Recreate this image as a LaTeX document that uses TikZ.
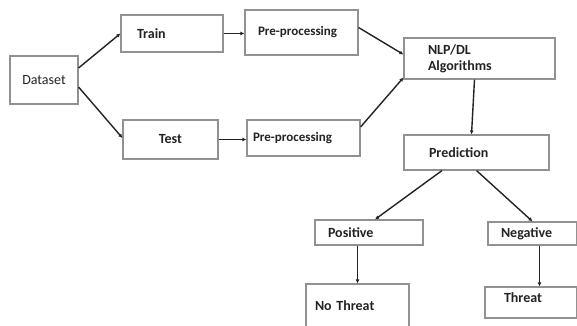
\documentclass[tikz,border=0pt]{standalone}
\usepackage{fontspec}
\setmainfont{Carlito}
\usepackage{xcolor}
\usetikzlibrary{arrows.meta}
\definecolor{boxgray}{RGB}{145,145,145}
\definecolor{linedark}{RGB}{35,35,35}
\definecolor{textdark}{RGB}{35,35,35}
\tikzset{
    box/.style={draw=boxgray,line width=1.1pt,text=textdark,inner ysep=0pt,align=left,
        font=\bfseries\fontsize{14}{16}\selectfont},
    flow/.style={draw=linedark,line width=1.4pt,-{Latex[length=4pt,width=4pt]}}
}

\begin{document}
\begin{tikzpicture}[x=1pt,y=-1pt]
        \useasboundingbox (0,0) rectangle (577,325);

        % Input and split
        \node[box,font=\fontsize{14}{16}\selectfont,align=center,minimum width=68pt,minimum height=48pt,text width=60pt,inner xsep=4pt] (dataset) at (44,80) {Dataset};
        \node[box,minimum width=102pt,minimum height=37pt,text width=70pt,inner xsep=16pt] (train) at (172,33.5) {Train};
        \node[box,align=center,minimum width=95pt,minimum height=39pt,text width=87pt,inner xsep=4pt] (test) at (170.5,139.5) {Test};

        % Pre-processing
        \node[box,font=\bfseries\fontsize{13}{15}\selectfont,minimum width=113pt,minimum height=45pt,text width=87pt,inner xsep=13pt] (preA) at (301.5,32.5) {Pre-processing};
        \node[box,font=\bfseries\fontsize{13}{15}\selectfont,minimum width=113pt,minimum height=36pt,text width=101pt,inner xsep=6pt] (preB) at (303.5,138) {Pre-processing};

        % Model and output
        \node[box,minimum width=151pt,minimum height=41pt,text width=103pt,inner xsep=24pt] (nlp) at (479.5,58.5) {NLP/DL\\Algorithms};
        \node[box,minimum width=145pt,minimum height=35pt,text width=95pt,inner xsep=25pt] (pred) at (476.5,152.5) {Prediction};
        \node[box,minimum width=108pt,minimum height=25pt,text width=82pt,inner xsep=13pt] (pos) at (369,232.5) {Positive};
        \node[box,minimum width=89pt,minimum height=23pt,text width=63pt,inner xsep=13pt] (neg) at (532.5,233.5) {Negative};
        \node[box,minimum width=103pt,minimum height=43pt,text width=85pt,inner xsep=9pt] (nothreat) at (357.5,305.5) {No Threat};
        \node[box,text depth=10pt,minimum width=92pt,minimum height=31pt,text width=54pt,inner xsep=19pt] (threat) at (531,302.5) {Threat};

        % Connectors
        \draw[flow] ([yshift=12pt]dataset.east) -- (train.west);
        \draw[flow] ([yshift=-7pt]dataset.east) -- ([yshift=1.5pt]test.west);
        \draw[flow] (train.east) -- (train.east -| preA.west);
        \draw[flow] (test.east) -- (test.east -| preB.west);
        \draw[flow] ([yshift=5pt]preA.east) -- ([yshift=4pt]nlp.west);
        \draw[flow] ([yshift=11pt]preB.east) -- ([yshift=2pt]nlp.south west);
        \draw[flow] ([xshift=-5pt]nlp.south) -- ([xshift=-5pt]pred.north);
        \draw[flow] ([xshift=-34.5pt]pred.south) -- ([xshift=6pt]pos.north);
        \draw[flow] (pred.south) -- (neg.north);
        \draw[flow] (nothreat.north |- pos.south) -- (nothreat.north);
        \draw[flow] ([xshift=7pt]neg.south) -- ([xshift=7pt]neg.south |- threat.north);
\end{tikzpicture}
\end{document}
